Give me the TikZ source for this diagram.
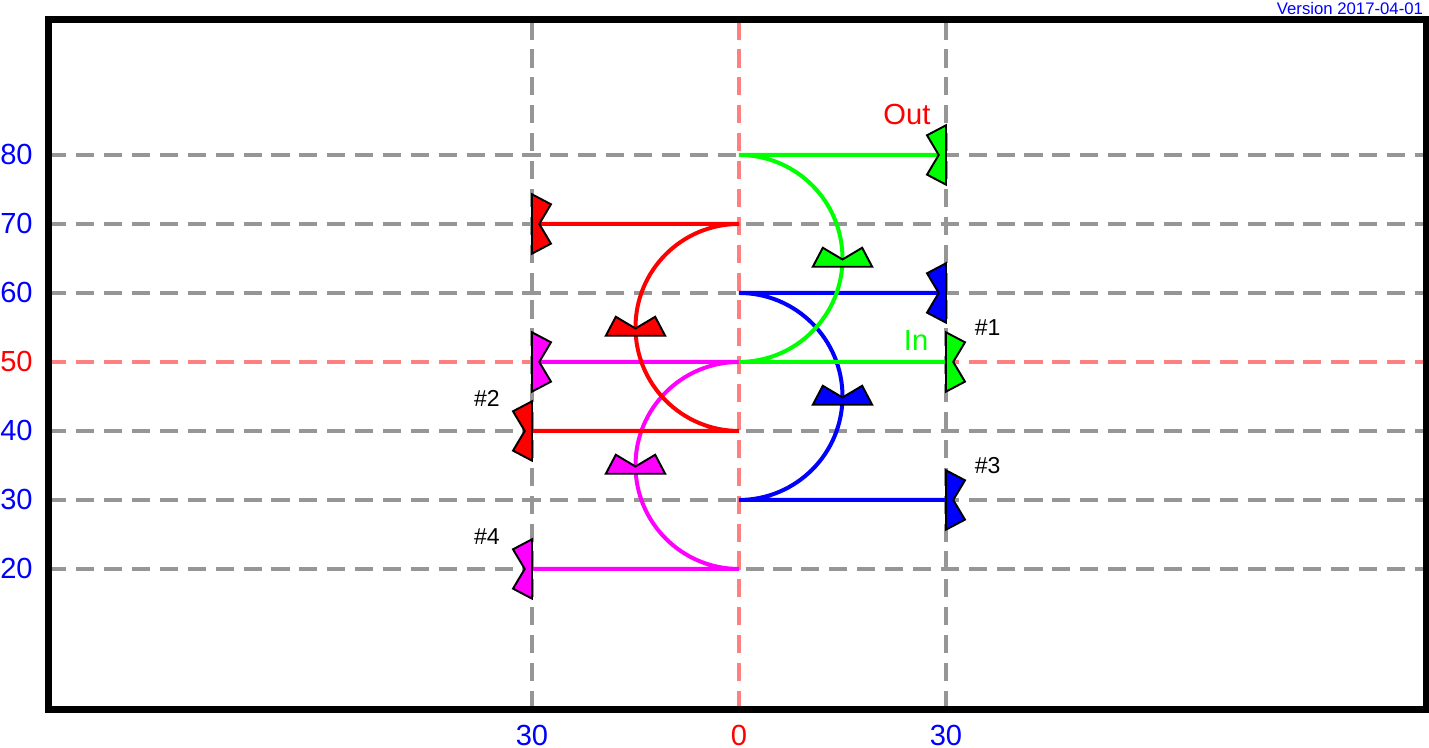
\documentclass[tikz,border=0pt]{standalone}
\usepackage{fontspec}
\setmainfont{Liberation Sans}
\usetikzlibrary{positioning}

\definecolor{gridgray}{RGB}{150,150,150}
\definecolor{axisred}{RGB}{255,128,128}
\definecolor{trkgreen}{RGB}{0,255,0}
\definecolor{trkred}{RGB}{255,0,0}
\definecolor{trkblue}{RGB}{0,0,255}
\definecolor{trkmagenta}{RGB}{255,0,255}

\tikzset{
  tag/.pic={\draw[pic actions, line width=0.8pt, line join=miter] (-4.3,0) -- (-2.85,2.75) -- (0,1.05) -- (2.85,2.75) -- (4.3,0) -- cycle;}
}

\begin{document}
\begin{tikzpicture}[x=1mm, y=1mm, every node/.style={font=\fontsize{12}{14}\selectfont, inner sep=0pt},
  grid/.style={draw=gridgray, line width=1.4pt, dash pattern=on 7.5pt off 4pt},
  axis/.style={grid, draw=axisred},
  track/.style={line width=1.65pt},
  small/.style={font=\fontsize{9.5}{11}\selectfont}]
	\useasboundingbox (-107.1,-5.94) rectangle (100.0,102.46);

	% grid
	\foreach \v in {20,30,40,60,70,80}{
		\draw[grid] (-100.1,\v) -- (99.6,\v);
		\node[anchor=east, trkblue] (y\v) at (-102.3,\v) {\v};
	}
	\draw[axis] (-100.1,50) -- (99.6,50);
	\node[anchor=east, trkred] (y50) at (-102.3,50) {50};
	\draw[grid] (-30,-0.3) -- (-30,99.7);
	\draw[grid] (30,-0.3) -- (30,99.7);
	\draw[axis] (0,-0.3) -- (0,99.7);
	\node[trkblue] (xl) at (-30,-4.06) {30};
	\node[trkred] (x0) at (0,-4.06) {0};
	\node[trkblue] (xr) at (30,-4.06) {30};

	\draw[line width=2.9pt] (-100.1,-0.3) rectangle (99.6,99.7);
	\node[anchor=north east, trkblue, font=\fontsize{6.9}{8}\selectfont] (ver) at (99.2,102.2) {Version 2017-04-01};

	% end points
	\coordinate (gin) at (30,50);  \coordinate (ga) at (0,50);  \coordinate (gout) at (30,80);
	\coordinate (rin) at (-30,40); \coordinate (ra) at (0,40);  \coordinate (rout) at (-30,70);
	\coordinate (bin) at (30,30);  \coordinate (ba) at (0,30);  \coordinate (bout) at (30,60);
	\coordinate (min) at (-30,20); \coordinate (ma) at (0,20);  \coordinate (mout) at (-30,50);

	% tracks
	\draw[track, trkmagenta] (min) -- (ma) arc[start angle=-90, end angle=-270, radius=15] -- (mout);
	\draw[track, trkred] (rin) -- (ra) arc[start angle=-90, end angle=-270, radius=15] -- (rout);
	\draw[track, trkblue] (bin) -- (ba) arc[start angle=-90, end angle=90, radius=15] -- (bout);
	\draw[track, trkgreen] (gin) -- (ga) arc[start angle=-90, end angle=90, radius=15] -- (gout);

	% markers
	\pic[fill=trkgreen, rotate=90] at (gout) {tag};
	\pic[fill=trkgreen, rotate=-90] at (gin) {tag};
	\pic[fill=trkgreen] at (15,63.8) {tag};
	\pic[fill=trkred, rotate=-90] at (rout) {tag};
	\pic[fill=trkred, rotate=90] at (rin) {tag};
	\pic[fill=trkred] at (-15,53.8) {tag};
	\pic[fill=trkblue, rotate=90] at (bout) {tag};
	\pic[fill=trkblue, rotate=-90] at (bin) {tag};
	\pic[fill=trkblue] at (15,43.8) {tag};
	\pic[fill=trkmagenta, rotate=-90] at (mout) {tag};
	\pic[fill=trkmagenta, rotate=90] at (min) {tag};
	\pic[fill=trkmagenta] at (-15,33.8) {tag};

	% labels
	\node[trkred, above left=4.3mm and 2.2mm of gout] (outlbl) {Out};
	\node[trkgreen, above left=1.6mm and 2.5mm of gin] (inlbl) {In};
	\node[small, above right=3.8mm and 4.1mm of gin] (n1) {\#1};
	\node[small, above left=3.5mm and 4.6mm of rin] (n2) {\#2};
	\node[small, above right=3.8mm and 4.1mm of bin] (n3) {\#3};
	\node[small, above left=3.5mm and 4.6mm of min] (n4) {\#4};
\end{tikzpicture}
\end{document}
